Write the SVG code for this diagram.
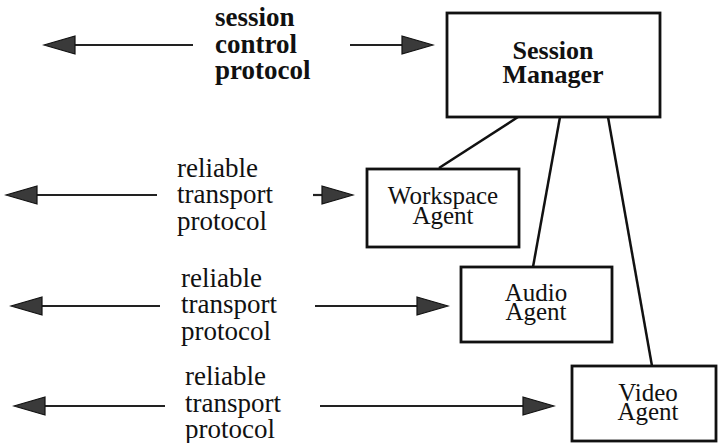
<svg xmlns="http://www.w3.org/2000/svg" width="720" height="443" viewBox="0 0 720 443">
<style>
.box{fill:#fff;stroke:#111;stroke-width:2.8}
.link{stroke:#111;stroke-width:2.5;fill:none}
.arr{stroke:#222;stroke-width:2.2;fill:none;marker-end:url(#head)}
text{font-family:'Liberation Serif','DejaVu Serif',serif;fill:#111}
.lb{font-size:27px}
.b{font-weight:bold}
.bx{font-size:25px;text-anchor:middle}
</style>
<defs>
<marker id="head" markerUnits="userSpaceOnUse" markerWidth="34" markerHeight="22" refX="1" refY="10" orient="auto" viewBox="0 0 34 22">
<path d="M1,1 L32,10 L1,19 Z" fill="#3a3a3a" stroke="#111" stroke-width="1.2"/>
</marker>
</defs>
<rect width="720" height="443" fill="#fff"/>
<g id="connectors">
<line class="link" x1="518" y1="117" x2="439" y2="168"/>
<line class="link" x1="560" y1="117" x2="533" y2="267"/>
<line class="link" x1="608" y1="117" x2="652" y2="366"/>
<line class="arr" x1="193" y1="45" x2="75" y2="45"/>
<line class="arr" x1="350" y1="45" x2="402" y2="45"/>
<line class="arr" x1="157" y1="195" x2="37" y2="195"/>
<line class="arr" x1="313" y1="195" x2="322" y2="195"/>
<line class="arr" x1="160" y1="306" x2="42" y2="306"/>
<line class="arr" x1="315" y1="306" x2="417" y2="306"/>
<line class="arr" x1="165" y1="406" x2="45" y2="406"/>
<line class="arr" x1="320" y1="406" x2="523" y2="406"/>
</g>
<g id="label-session">
<text class="lb b" x="215" y="26">session</text>
<text class="lb b" x="215" y="53">control</text>
<text class="lb b" x="215" y="79">protocol</text>
</g>
<g id="label-workspace">
<text class="lb" x="177" y="177">reliable</text>
<text class="lb" x="177" y="203">transport</text>
<text class="lb" x="177" y="230">protocol</text>
</g>
<g id="label-audio">
<text class="lb" x="181" y="287">reliable</text>
<text class="lb" x="181" y="313">transport</text>
<text class="lb" x="181" y="340">protocol</text>
</g>
<g id="label-video">
<text class="lb" x="185" y="385">reliable</text>
<text class="lb" x="185" y="412">transport</text>
<text class="lb" x="185" y="438">protocol</text>
</g>
<g id="session-manager">
<rect class="box" x="447" y="13" width="213" height="104"/>
<text class="bx b" x="553" y="59" style="font-size:26px">Session</text>
<text class="bx b" x="553" y="83" style="font-size:26px">Manager</text>
</g>
<g id="workspace-agent">
<rect class="box" x="367" y="169" width="152" height="78"/>
<text class="bx" x="443" y="204">Workspace</text>
<text class="bx" x="443" y="224">Agent</text>
</g>
<g id="audio-agent">
<rect class="box" x="461" y="267" width="151" height="75"/>
<text class="bx" x="536" y="301">Audio</text>
<text class="bx" x="536" y="320">Agent</text>
</g>
<g id="video-agent">
<rect class="box" x="572" y="366" width="144" height="75"/>
<text class="bx" x="648" y="401">Video</text>
<text class="bx" x="648" y="420">Agent</text>
</g>
</svg>
